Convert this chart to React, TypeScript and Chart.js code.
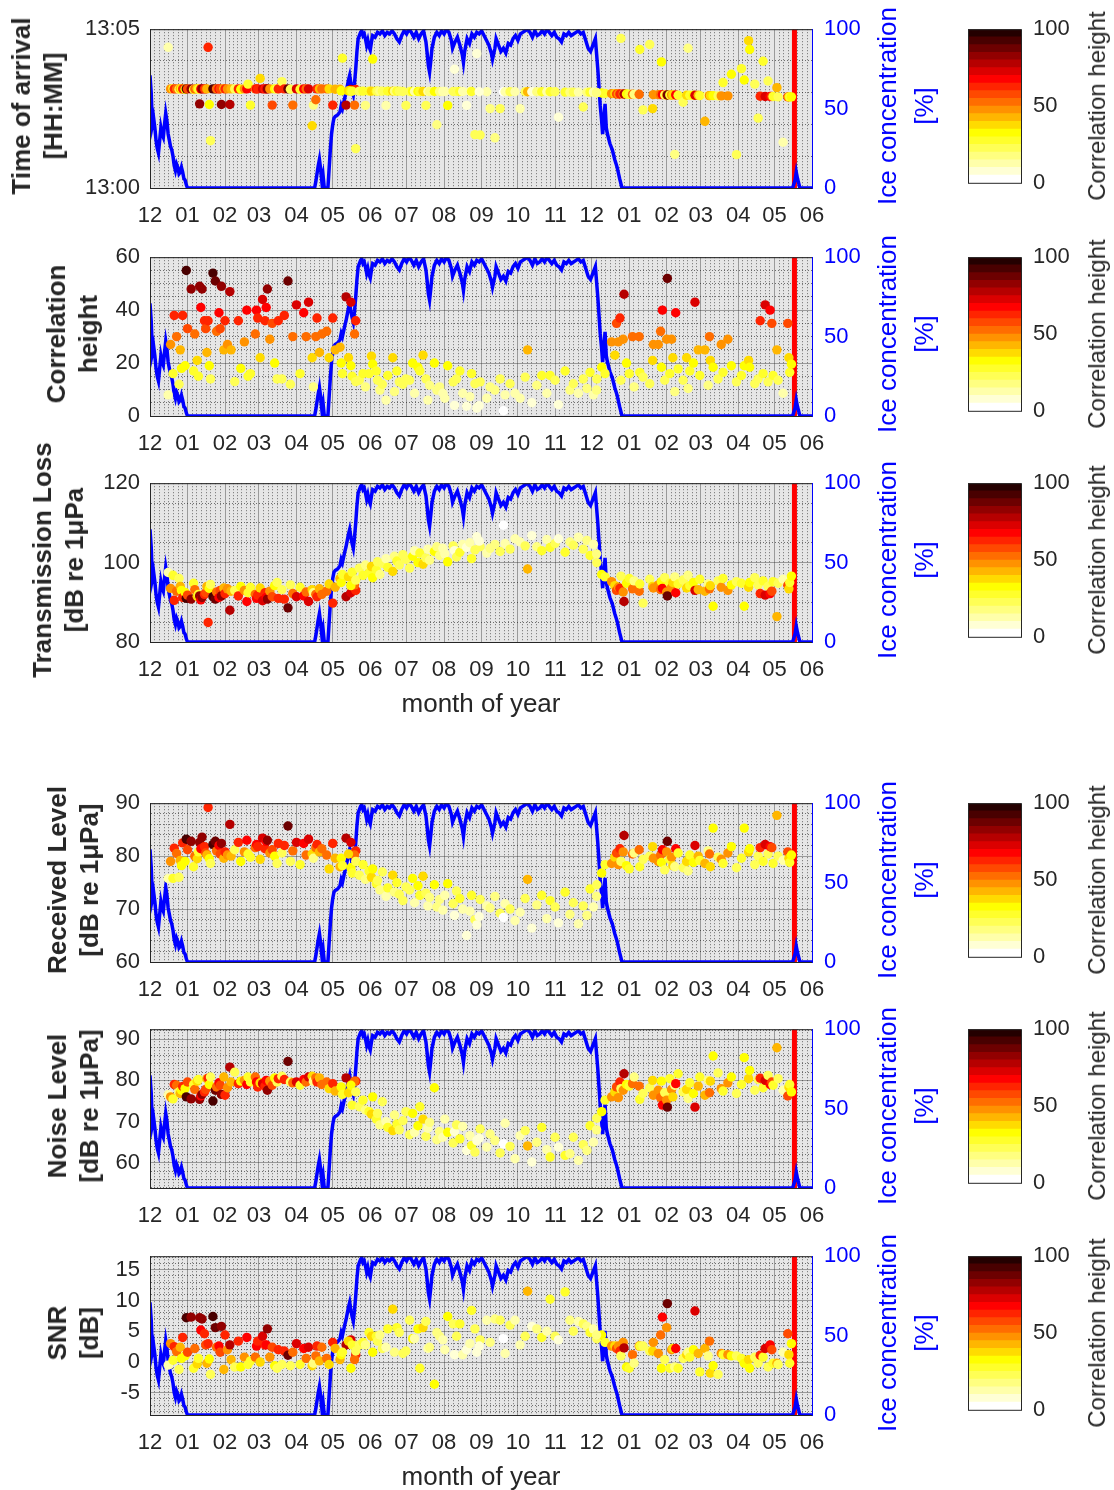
import React, { useEffect, useRef } from 'react';
import { Chart, registerables } from 'chart.js';
Chart.register(...registerables);

const FONT = "'Liberation Sans', Arial, Helvetica, sans-serif";
const AX = '#262626';
Chart.defaults.font.family = FONT;

// ---------------- DATA ----------------
const monthTickDays = [0, 31, 62, 90, 121, 151, 182, 212, 243, 274, 304, 335, 365, 396, 427, 455, 486, 516, 547];
const monthTickLabels = ['12', '01', '02', '03', '04', '05', '06', '07', '08', '09', '10', '11', '12', '01', '02', '03', '04', '05', '06'];

// observation day (days since 1 Dec of first year)
const obsDay = [
  15, 17, 19, 20, 22, 24, 25, 26, 27, 29,
  30, 31, 34, 36, 37, 39, 40, 41, 42, 43,
  45, 46, 47, 48, 49, 50, 52, 54, 55, 57,
  58, 59, 61, 62, 64, 66, 67, 70, 73, 75,
  78, 80, 81, 83, 87, 88, 89, 91, 93, 95,
  96, 97, 99, 101, 103, 105, 106, 109, 111, 114,
  116, 118, 121, 124, 127, 129, 131, 134, 135, 137,
  138, 140, 142, 146, 148, 151, 153, 157, 162, 166,
  170, 169,
  158, 159, 164, 166, 167, 170, 173, 176, 178, 181,
  183, 184, 187, 188, 190, 192, 195, 196.5, 200.6, 202,
  204, 206, 209, 211.5, 214.5, 217, 218.6, 221.4, 223, 225.6,
  228, 229.6, 231, 235, 237, 239.3, 242, 243.6, 246, 250.5,
  251.6, 253.3, 256, 258.4, 261.6, 264.3, 265.7, 268.5, 270, 272.8,
  278.3, 272, 281, 285, 289.3, 292, 293.4, 297.5, 301.6, 305.8,
  310, 312, 315.5, 319.6, 323.7, 327.9, 330.6, 334.7, 337.5, 343,
  347, 349.8, 354, 358, 361, 363.6, 366.4, 369.2, 373.2, 376,
  369,
  381.4, 384.1, 385.5, 387, 388.3, 389.1, 391, 391.7, 393.7, 396,
  398.7, 400, 404.2, 404.7, 407.4, 412.9, 415.3, 415.9, 420, 421.9,
  422.6, 423.4, 425.3, 426.9, 427.5, 429.5, 431, 432, 433.6, 434.4,
  436.4, 440.5, 443.4, 444.6, 446, 449, 450.3, 453, 454.3, 458.5,
  461.2, 462.3, 463, 465.3, 469.4, 472, 473.5, 477.5, 480.4, 484.6,
  488.7, 491, 494.6, 495.5, 499.7, 502.5, 504.2, 506.6, 508.3, 510.7,
  512.4, 513.8, 514.8, 518, 519, 523.1, 527, 527.9, 528.6, 530,
];

// correlation height
const obsCorr = [
  8, 27, 16, 38, 30, 12, 25, 18, 38, 19,
  55, 33, 48, 17, 31, 21, 15, 49, 41, 48,
  36, 33, 24, 36, 19, 14, 54, 51, 32, 39,
  33, 49, 25, 36, 27, 47, 25, 13, 36, 18,
  28, 40, 15, 16, 31, 40, 37, 22, 44, 36,
  41, 48, 29, 35, 20, 14, 36, 14, 38, 51,
  12, 30, 42, 16, 39, 30, 43, 22, 11, 30,
  37, 24, 31, 32, 22, 37, 25, 26, 45, 43,
  36, 31,
  20, 16, 22, 19, 15, 13, 13.5, 16, 11, 16,
  22.6, 19.6, 17, 13.5, 9.8, 12, 6, 15.3, 22, 9.2,
  17, 12.9, 12, 14, 13.5, 20, 8.6, 18.4, 17, 23,
  14, 6, 11.6, 20, 9.8, 11, 8.6, 6.7, 19, 12.9,
  4, 14, 17, 8.6, 3.7, 7.3, 16, 12.2, 3, 12.9,
  6.7, 3.9, 11, 9.8, 14, 2, 8, 12.2, 8.6, 6.7,
  14.7, 25, 5, 11.6, 15.3, 8.6, 15.3, 13.5, 4.3, 17,
  9.8, 12.2, 8.6, 14, 10.4, 16.5, 8, 14, 18.4, 16,
  9.8,
  28, 23, 35, 28, 37, 13.5, 29, 46, 20, 16,
  30, 11, 30, 16.5, 14.7, 12.2, 21, 27, 27, 32,
  18.4, 40, 13.5, 29, 52, 16, 29, 22, 9.2, 39,
  17.8, 13.5, 22, 10.4, 17, 20, 43, 25, 15.3, 25,
  11.6, 30, 21, 18.4, 14, 27, 16.5, 29, 19, 12.9,
  15.3, 19, 21, 18.4, 12.2, 14, 36, 16, 42, 12.9,
  40, 35, 15.3, 25, 13.5, 8.6, 35, 22, 16.5, 19.6,
];

// time of arrival, minutes after 13:00
const obsToa = [
  4.43, 3.12, 3.13, 3.12, 3.12, 3.11, 3.13, 3.12, 3.12, 3.11,
  3.12, 3.12, 3.12, 3.10, 3.12, 3.13, 3.11, 2.65, 3.12, 3.12,
  3.12, 3.12, 3.12, 4.43, 2.63, 1.49, 3.12, 3.12, 3.12, 3.12,
  3.12, 2.63, 3.13, 3.12, 3.12, 2.63, 3.12, 3.12, 3.12, 3.11,
  3.12, 3.12, 3.27, 2.61, 3.12, 3.12, 3.12, 3.45, 3.12, 3.12,
  3.12, 3.12, 3.12, 2.61, 3.12, 3.12, 3.12, 3.35, 3.12, 3.12,
  3.11, 2.61, 3.12, 3.11, 3.12, 3.12, 3.12, 1.96, 2.61, 2.78,
  3.12, 3.12, 3.12, 3.12, 3.12, 2.61, 3.11, 3.11, 2.61, 3.10,
  3.10, 2.61,
  3.06, 4.09, 3.06, 3.05, 3.05, 1.24, 3.05, 3.05, 2.6, 3.05,
  3.05, 4.06, 3.05, 3.05, 3.05, 3.05, 2.6, 3.05, 3.05, 3.05,
  3.05, 3.05, 3.04, 2.6, 3.04, 3.04, 3.04, 3.04, 3.04, 3.04,
  2.6, 3.04, 3.04, 3.04, 1.99, 3.04, 3.04, 3.04, 2.6, 3.04,
  3.74, 3.04, 3.04, 3.04, 2.6, 3.04, 3.04, 1.68, 4.23, 1.67,
  3.03, 3.03, 2.5, 1.58, 2.5, 3.03, 3.03, 3.03, 3.03, 2.5,
  3.03, 3.03, 3.03, 3.03, 3.03, 3.03, 3.03, 3.03, 2.23, 3.02,
  3.02, 3.02, 3.02, 2.55, 3.02, 3.02, 3.02, 3.0, 2.99, 2.98,
  3.0,
  2.97, 2.97, 2.96, 2.96, 2.96, 4.71, 2.96, 2.96, 2.96, 2.95,
  2.95, 2.95, 2.95, 4.36, 2.46, 4.52, 2.5, 2.94, 2.94, 2.94,
  3.97, 2.94, 2.93, 2.93, 2.93, 2.93, 2.93, 2.93, 1.06, 2.93,
  2.92, 2.7, 2.92, 4.4, 2.92, 2.92, 2.92, 2.92, 2.91, 2.1,
  2.91, 2.91, 2.91, 2.91, 2.9, 2.9, 3.32, 2.9, 3.58, 1.05,
  3.76, 3.4, 4.64, 4.36, 3.27, 2.2, 2.89, 3.99, 2.88, 3.37,
  2.88, 2.88, 2.88, 3.16, 2.87, 1.44, 2.87, 2.87, 2.87, 2.87,
];

// transmission loss [dB]
const obsTL = [
  97.5, 93.5, 96.8, 90.5, 92.8, 96, 94, 93, 91.2, 92.5,
  91, 91.8, 90.8, 94.8, 93.2, 91.5, 92, 91.6, 90.6, 91.2,
  92, 92.4, 94, 84.9, 93.5, 94.5, 91.4, 90.8, 92.6, 91.2,
  93, 91.6, 93.6, 92.2, 93.4, 88, 92.8, 93, 91.6, 94,
  93, 90.2, 92.4, 93.8, 92, 91, 91.8, 93.6, 90.4, 92.4,
  91.2, 90.8, 92.8, 91.4, 94.2, 95, 91, 93.2, 90.8, 88.6,
  94.4, 92.2, 91.4, 93.8, 91.6, 92.6, 90.2, 93.2, 92.4, 92,
  91.4, 93.4, 92, 92.8, 94.6, 89.8, 93.8, 96, 91.4, 92.4,
  93, 94.4,
  95, 97, 96.4, 94.2, 97.6, 95.6, 98.6, 96.8, 99.4, 97.4,
  99, 96.2, 98.2, 100.2, 97, 99.8, 101, 98.8, 97.8, 101.6,
  100.4, 99.4, 102, 100.8, 98.6, 101.6, 103, 100, 102.4, 99.6,
  101.2, 103.4, 100.6, 102.8, 104, 101.8, 103.6, 102.2, 100.2, 104.2,
  103, 101.4, 102.6, 104.6, 103.8, 105, 101, 103.2, 106.5, 104,
  102.4, 105.4, 103.6, 104.6, 102.8, 109.4, 104.8, 103.4, 106, 105.2,
  104.2, 98.4, 106.8, 104, 103, 105.8, 103.8, 104.8, 106, 102.6,
  105.2, 104.4, 106.4, 103.4, 105.6, 101.8, 104.6, 100, 97, 96.4,
  102.2,
  95.2, 94.2, 93, 93.8, 93.5, 96.6, 92.6, 90.2, 94.8, 96,
  93.4, 95.4, 92.8, 94.6, 89.8, 95.8, 94, 93.6, 94.4, 93.2,
  95.2, 93.5, 96.2, 92.6, 91.6, 94.8, 93.8, 95, 96.4, 92.4,
  94.6, 95.6, 93.6, 96.8, 94.2, 95, 93, 93.2, 95.8, 92.8,
  94.6, 93.4, 94.2, 89, 95.4, 93.8, 96, 93, 94.4, 95.2,
  94.8, 89, 93.8, 95, 96.2, 94.4, 92.2, 95.4, 91.8, 94,
  92.2, 92.8, 95.2, 86.4, 94.8, 95.8, 94.3, 93.4, 95, 96.6,
];

// received level [dB re 1uPa]
const obsRL = [
  75.8, 79, 75.8, 81.5, 80.5, 76, 79.2, 78.2, 82.5, 79,
  83.2, 81.2, 82.8, 78, 80, 79.5, 80.8, 82.6, 81.4, 83.6,
  81.8, 80.6, 80.2, 89.2, 79.5, 78.6, 82.2, 82.8, 81, 82,
  80.4, 82.4, 79.6, 80.8, 80.2, 86, 80, 81.2, 82.6, 79,
  80.8, 83, 80.4, 79.8, 81.6, 82.2, 81.8, 79.4, 83.4, 81.4,
  82.8, 83, 80.6, 81.2, 80, 78.6, 82.4, 80.6, 82, 85.7,
  79, 81, 82.6, 78.4, 82.4, 80.2, 83.2, 80.4, 79.6, 81.6,
  82.2, 80.8, 81.4, 80.2, 77.6, 82.4, 79.6, 78, 83.4, 82.6,
  81, 80.2,
  79.6, 78.2, 80.4, 77.8, 76.8, 79, 76.4, 78.4, 75.6, 77.2,
  76, 77.6, 74.8, 75.4, 73.6, 77, 72.4, 74, 76.4, 73.2,
  75, 72.8, 71.6, 74.2, 73.6, 75.8, 71.2, 74.4, 72.6, 76.2,
  73, 70.6, 72.2, 74.6, 70.4, 71.8, 69.8, 72.6, 74.8, 71,
  68.8, 73.4, 72, 70, 65, 69.6, 72.6, 68, 67, 71.8,
  70.6, 68.6, 70.2, 72.4, 69.2, 68.4, 71, 70, 67.8, 69.4,
  72, 75.6, 66.4, 70.8, 72.6, 68.2, 71.6, 70.4, 67.4, 73.2,
  69, 71.2, 67.2, 70.6, 68.8, 73.8, 70.4, 74.6, 76.8, 78.4,
  72.4,
  78.6, 79.8, 80.6, 78.4, 81.4, 79, 80.8, 83.9, 78.2, 77.6,
  80.4, 80.6, 81.2, 78, 79.4, 80, 81.8, 79.6, 79, 80.2,
  78.8, 81.2, 77.4, 80.8, 82.8, 79.4, 79.8, 78.2, 78, 81.4,
  80.6, 77.8, 79, 77.2, 80.2, 78.8, 82, 80, 79.2, 78.6,
  81, 80.4, 78, 85.3, 79.8, 79.4, 78.6, 80.6, 81.8, 77.8,
  79.6, 85.3, 80.8, 81.4, 78.4, 80, 81.6, 79, 82.2, 80.4,
  81.8, 81.6, 78.6, 87.7, 80, 79.2, 80.8, 79.6, 78.8, 80.2,
];

// noise level [dB re 1uPa]
const obsNL = [
  76.5, 76, 75.5, 79, 78.8, 77.2, 76.8, 77.6, 78.5, 78,
  76, 79.6, 75.5, 79, 77.8, 79.8, 80.2, 75.4, 76.2, 76.6,
  77.2, 77.8, 80.4, 80.5, 79, 80.8, 75, 77.6, 78.4, 79.4,
  78.8, 76.6, 80.8, 76.4, 78.2, 83.2, 79.6, 82, 79.2, 79.8,
  80, 79, 80.8, 79.6, 80.8, 79.6, 78.4, 79.4, 79.2, 78.6,
  80, 77.6, 79.8, 78.8, 80.6, 79.6, 80.4, 81, 80.2, 84.6,
  79.6, 79.4, 79.6, 78.8, 80.2, 79.6, 80.8, 81, 79.8, 80.6,
  79.6, 80.6, 79, 79.6, 78, 79.2, 77.4, 77.6, 80.6, 79,
  79.8, 79.8,
  78.4, 76.6, 77, 78.8, 74, 77.2, 73.6, 75.2, 72.8, 72.4,
  71.8, 76, 70.6, 72, 69.2, 74.8, 70, 68.6, 67.8, 71.6,
  69.4, 68, 70.2, 72.4, 66.8, 72, 67.4, 69, 73.6, 70.6,
  66.4, 68.4, 69.8, 78.2, 65.6, 67.6, 66.2, 70.6, 67.4, 64.8,
  67.6, 69.2, 65.8, 68.8, 63, 66.6, 64.2, 62.6, 65.4, 68.2,
  63.8, 66, 67, 65.4, 62.4, 64.6, 69.6, 64, 61, 66.6,
  67.8, 64.1, 60.2, 65, 68.6, 63.2, 61.4, 66.2, 63.8, 61.8,
  62.2, 66.2, 60.6, 64.4, 63, 69, 65, 70.8, 72.4, 75.2,
  68,
  76, 77.2, 78.4, 75.8, 79.6, 78, 77.6, 81.6, 79, 78.6,
  79.2, 80.8, 78.6, 75.4, 76.8, 78.2, 80, 76.4, 77.6, 75.8,
  79.8, 74, 77, 75.2, 73.5, 80.4, 77.8, 76, 78.8, 79.2,
  81.6, 77.2, 77.8, 75.6, 79.4, 76.8, 73.5, 78.6, 80.8, 76.4,
  80, 77, 79.8, 85.9, 81.8, 78, 77.4, 79.4, 80.8, 76.8,
  79, 85.5, 80.4, 82.4, 77.6, 80.2, 80.5, 78.2, 80, 81.2,
  79, 79.6, 78.8, 87.9, 80.4, 77.6, 76.2, 78.4, 79, 77.2,
];

// signal to noise ratio [dB]
const obsSNR = [
  -0.5, 3, 0.3, 2.5, 1.7, -1.2, 2.4, 0.6, 4, 1,
  7.2, 1.6, 7.3, -1, 2.2, -0.3, 0.6, 7.2, 5.2, 7,
  4.6, 2.8, -0.2, 3, 0.5, -2, 7.4, 5.6, 2.4, 2.6,
  1.6, 5.8, -1.2, 4.4, 2, 2.8, 0.4, -0.8, 3.4, -0.8,
  0.8, 4, -0.4, 0.2, 0.8, 2.6, 3.4, 0, 4.2, 2.8,
  2.8, 5.4, 0.8, 2.4, -0.6, -1, 2, -0.4, 1.8, 1.1,
  -0.6, 1.6, 3, -0.4, 2.2, 0.6, 2.4, -0.6, -0.2, 1,
  2.6, 0.2, 2.4, 0.6, -0.4, 3.2, 2.2, 0.4, 2.8, 3.6,
  1.2, 0.4,
  1.2, 1.6, 3.4, -1, 2.8, 1.8, 2.8, 3.2, 2.8, 4.8,
  4.2, 1.6, 4.2, 3.4, 4.4, 2.2, 2.4, 5.4, 8.6, 1.6,
  5.6, 4.8, 1.4, 1.8, 6.8, 3.8, 3.8, 5.4, -1, 5.6,
  6.6, 2.2, 2.4, -3.6, 4.8, 4.2, 3.6, 2, 7.4, 6.2,
  1.2, 4.2, 6.2, 1.2, 2, 3, 8.4, 5.4, 1.6, 3.6,
  6.8, 2.6, 3.2, 7, 6.8, 3.8, 1.4, 6, 6.8, 2.8,
  4.2, 11.5, 5.8, 5.4, 4, 5, 10.2, 4.2, 3.6, 11.4,
  6.8, 5, 6.6, 6.2, 5.8, 4.8, 5.4, 3.8, 4.4, 3.2,
  4.4,
  2.6, 2.6, 2.2, 2.6, 1.8, 1, 3.2, 2.3, -0.8, -1,
  1.2, -0.2, 2.6, 2.6, 2.6, 1.8, 1.8, 3.2, 1.4, 4.4,
  -1, 7.3, 0.4, 5.6, 9.5, -1, 2, 2.2, -0.8, 2.2,
  -1, 0.6, 1.2, 1.6, 0.8, 2, 8.3, 1.4, -1.6, 2.2,
  1, 3.4, -1.8, -0.6, -2, 1.4, 1.2, 1.2, 1, 1,
  0.6, -0.2, 0.4, -1, 0.8, -0.2, 1.1, 0.8, 2.2, -0.8,
  2.8, 2, -0.2, -0.2, -0.4, 1.6, 4.6, 1.2, -0.2, 3,
];

// ice concentration [%]
const iceDay = [
  0, 1, 2, 3, 4, 5, 6, 7, 8, 9, 10, 11, 12, 13, 14, 15, 16, 17, 18, 19,
  20, 21, 22, 23, 24, 25, 26, 27, 28, 29, 30, 31, 32, 60, 100, 136,
  137, 139, 140, 141, 142, 143, 144, 147, 148, 149, 150, 151, 152, 153, 155, 157,
  158, 159, 161, 162, 163, 164, 165, 166, 167, 168, 169, 170, 171, 172, 173, 174,
  175, 176, 177, 178, 179, 180, 181, 182, 183, 184, 186, 188, 190, 192, 194, 196,
  198, 200, 202, 204, 206, 208, 210, 212, 214, 216, 218, 220, 222, 224, 226, 228,
  229, 230, 231, 232, 233, 235, 237, 239, 241, 243, 245, 247, 249, 250, 252, 254,
  256, 258, 259, 260, 262, 264, 266, 268, 270, 272, 274, 276, 278, 280, 282, 283,
  285, 286, 288, 290, 292, 294, 296, 298, 300, 302, 304, 306, 308, 310, 312, 314,
  316, 318, 320, 322, 324, 326, 328, 330, 332, 334, 336, 338, 340, 342, 344, 346,
  348, 350, 352, 354, 356, 358, 360, 362, 364, 366, 368, 370, 372, 373, 374, 375,
  376, 377, 378, 380, 382, 384, 386, 388, 390, 531, 533, 534, 535, 537, 547,
];
const iceConc = [
  71, 60, 40, 44, 38, 30, 25, 22, 30, 38, 34, 32, 40, 47, 42, 34, 30, 26, 24, 20,
  14, 11, 15, 13, 9, 10, 13, 10, 6, 5, 2, 0, 0, 0, 0, 0,
  4, 14, 18, 12, 4, 8, 0, 0, 12, 24, 34, 40, 44, 45, 46, 48,
  52, 50, 57, 60, 64, 68, 71, 66, 62, 59, 66, 75, 86, 94, 96, 98,
  99, 96, 97, 94, 90, 93, 89, 87, 92, 96, 95, 98, 97, 99, 96, 98,
  97, 99, 97, 94, 92, 96, 99, 97, 100, 98, 95, 98, 94, 97, 99, 92,
  85, 77, 73, 80, 88, 95, 98, 96, 99, 97, 100, 98, 93, 88, 92, 95,
  90, 84, 79, 86, 94, 91, 97, 95, 98, 97, 99, 96, 93, 90, 85, 81,
  88, 94, 90, 86, 88, 85, 91, 90, 94, 96, 93, 97, 98, 99, 100, 98,
  95, 99, 96, 97, 99, 97, 100, 98, 96, 98, 95, 94, 92, 97, 96, 98,
  96, 97, 98, 99, 97, 98, 93, 88, 86, 90, 94, 75, 52, 44, 34, 42,
  53, 38, 34, 28, 24, 18, 13, 6, 0, 0, 5, 10, 6, 0, 0,
];

const markerDay = 532.5;

// colorbar levels (lower bound of each band) and band width
const cbLevels = [0, 5, 10, 15, 20, 25, 30, 35, 40, 45, 50, 55, 60, 65, 70, 75, 80, 85, 90, 95];
const cbStep = 5;
// correlation height that maps to the darkest marker colour
const markerColorMax = 60;

// ---------------- STYLE HELPERS ----------------
function hotColor(j: number, m = 20): string {
  const n = Math.floor((3 * m) / 8);
  const r = j < n ? (j + 1) / n : 1;
  const g = j < n ? 0 : j < 2 * n ? (j - n + 1) / n : 1;
  const b = j < 2 * n ? 0 : (j - 2 * n + 1) / (m - 2 * n);
  return `rgb(${Math.round(r * 255)},${Math.round(g * 255)},${Math.round(b * 255)})`;
}
function corrColor(c: number): string {
  const k = Math.max(0, Math.min(19, Math.floor((c / markerColorMax) * 20)));
  return hotColor(19 - k);
}

const MAJ = 'rgba(40,40,40,0.4)';
const MIN = 'rgba(30,30,30,0.6)';
const PLOT_BG = '#e6e6e6';
const H = 164;
const CANVAS_W = 940;
const TICK_SIZE = 22;
const LABEL_SIZE = 26;
const CB_LABEL_SIZE = 24;

const xTickObjs: any[] = [];
monthTickDays.forEach((d, i) => {
  xTickObjs.push({ value: d, mj: true, lab: monthTickLabels[i] });
  if (i < monthTickDays.length - 1) {
    const nx = monthTickDays[i + 1];
    for (let k = 1; k < 8; k++) xTickObjs.push({ value: d + ((nx - d) * k) / 8, mj: false, lab: '' });
  }
});

type PanelCfg = {
  top: number;
  values: number[];
  min: number;
  max: number;
  major: number[];
  majorLabels: string[];
  minorStep: number;
  title: string[];
  titleX: number;
  xTitle: boolean;
};

const panels: PanelCfg[] = [
  { top: 24, values: obsToa, min: 0, max: 5, major: [0, 5], majorLabels: ['13:00', '13:05'], minorStep: 1, title: ['Time of arrival', '[HH:MM]'], titleX: 37, xTitle: false },
  { top: 252, values: obsCorr, min: 0, max: 60, major: [0, 20, 40, 60], majorLabels: ['0', '20', '40', '60'], minorStep: 5, title: ['Correlation', 'height'], titleX: 72, xTitle: false },
  { top: 478, values: obsTL, min: 80, max: 120, major: [80, 100, 120], majorLabels: ['80', '100', '120'], minorStep: 5, title: ['Transmission Loss', '[dB re 1μPa'], titleX: 58, xTitle: true },
  { top: 798, values: obsRL, min: 60, max: 90, major: [60, 70, 80, 90], majorLabels: ['60', '70', '80', '90'], minorStep: 2, title: ['Received Level', '[dB re 1μPa]'], titleX: 73, xTitle: false },
  { top: 1024, values: obsNL, min: 53.9, max: 92.4, major: [60, 70, 80, 90], majorLabels: ['60', '70', '80', '90'], minorStep: 2, title: ['Noise Level', '[dB re 1μPa]'], titleX: 73, xTitle: false },
  { top: 1251, values: obsSNR, min: -8.6, max: 17.2, major: [-5, 0, 5, 10, 15], majorLabels: ['-5', '0', '5', '10', '15'], minorStep: 1, title: ['SNR', '[dB]'], titleX: 73, xTitle: true },
];

function buildYTicks(cfg: PanelCfg) {
  const list: any[] = [];
  const start = Math.ceil(cfg.min / cfg.minorStep - 1e-9) * cfg.minorStep;
  for (let v = start; v <= cfg.max + 1e-9; v += cfg.minorStep) {
    const vv = Math.round(v * 1000) / 1000;
    const mi = cfg.major.findIndex((m) => Math.abs(m - vv) < 1e-6);
    list.push({ value: vv, mj: mi >= 0, lab: mi >= 0 ? cfg.majorLabels[mi] : '' });
  }
  return list;
}

const plotFrame = {
  id: 'plotFrame',
  beforeDraw(chart: any) {
    const { ctx, chartArea: a } = chart;
    ctx.save();
    ctx.fillStyle = PLOT_BG;
    ctx.fillRect(a.left, a.top, a.right - a.left, a.bottom - a.top);
    ctx.restore();
  },
  afterDatasetsDraw(chart: any) {
    const { ctx, chartArea: a } = chart;
    ctx.save();
    ctx.lineWidth = 1;
    ctx.strokeStyle = AX;
    ctx.beginPath();
    ctx.moveTo(a.left + 0.5, a.bottom + 0.5);
    ctx.lineTo(a.left + 0.5, a.top + 0.5);
    ctx.lineTo(a.right, a.top + 0.5);
    ctx.moveTo(a.left, a.bottom + 0.5);
    ctx.lineTo(a.right, a.bottom + 0.5);
    ctx.stroke();
    ctx.strokeStyle = '#0000ff';
    ctx.beginPath();
    ctx.moveTo(a.right + 0.5, a.top);
    ctx.lineTo(a.right + 0.5, a.bottom + 1);
    ctx.stroke();
    ctx.restore();
  },
};

const cbFrame = {
  id: 'cbFrame',
  afterDatasetsDraw(chart: any) {
    const { ctx, chartArea: a } = chart;
    ctx.save();
    ctx.lineWidth = 1;
    ctx.strokeStyle = AX;
    ctx.strokeRect(a.left + 0.5, a.top + 0.5, a.right - a.left, a.bottom - a.top);
    ctx.restore();
  },
};

function Panel({ cfg }: { cfg: PanelCfg }) {
  const ref = useRef<HTMLCanvasElement>(null);
  useEffect(() => {
    const yTicks = buildYTicks(cfg);
    const colors = obsCorr.map((c) => corrColor(c));
    const gridColor = (c: any) => (c.tick && c.tick.mj ? MAJ : MIN);
    const gridDash = (c: any) => (c.type === 'tick' && c.tick && !c.tick.mj ? [1, 2] : []);
    const tickFont = { family: FONT, size: TICK_SIZE };
    const chart = new Chart(ref.current as HTMLCanvasElement, {
      type: 'scatter',
      data: {
        datasets: [
          {
            type: 'scatter',
            data: obsDay.map((d, i) => ({ x: d, y: cfg.values[i] })),
            yAxisID: 'y',
            pointRadius: 4.7,
            pointHoverRadius: 4.7,
            pointBackgroundColor: colors,
            pointBorderColor: colors,
            pointBorderWidth: 0,
            borderWidth: 0,
            order: 1,
          } as any,
          {
            type: 'line',
            data: iceDay.map((d, i) => ({ x: d, y: iceConc[i] })),
            yAxisID: 'y1',
            borderColor: '#0000ff',
            borderWidth: 3.5,
            pointRadius: 0,
            fill: false,
            tension: 0,
            order: 2,
          } as any,
          {
            type: 'line',
            data: [{ x: markerDay, y: 0 }, { x: markerDay, y: 100 }],
            yAxisID: 'y1',
            borderColor: '#ff0000',
            borderWidth: 5,
            pointRadius: 0,
            order: 3,
          } as any,
        ],
      },
      options: {
        responsive: false,
        animation: false,
        devicePixelRatio: 1,
        events: [],
        layout: { padding: { top: 20, left: 0, right: 0, bottom: 0 } },
        plugins: { legend: { display: false }, tooltip: { enabled: false } },
        scales: {
          x: {
            type: 'linear',
            position: 'bottom',
            min: 0,
            max: 547,
            afterBuildTicks: (s: any) => { s.ticks = xTickObjs.map((t) => ({ ...t })); },
            afterFit: (s: any) => { s.height = 60; },
            ticks: {
              autoSkip: false,
              maxRotation: 0,
              padding: 15,
              color: AX,
              font: tickFont,
              callback: (_v: any, i: number, ts: any[]) => ts[i].lab,
            },
            grid: { color: gridColor, lineWidth: 1, drawTicks: false },
            border: { display: true, color: AX, width: 1, dash: gridDash },
          } as any,
          y: {
            type: 'linear',
            position: 'left',
            min: cfg.min,
            max: cfg.max,
            afterBuildTicks: (s: any) => { s.ticks = yTicks.map((t) => ({ ...t })); },
            afterFit: (s: any) => { s.width = 150; },
            ticks: {
              autoSkip: false,
              padding: 10,
              color: AX,
              font: tickFont,
              callback: (_v: any, i: number, ts: any[]) => ts[i].lab,
            },
            grid: { color: gridColor, lineWidth: 1, drawTicks: false },
            border: { display: true, color: AX, width: 1, dash: gridDash },
          } as any,
          y1: {
            type: 'linear',
            position: 'right',
            min: 0,
            max: 100,
            afterBuildTicks: (s: any) => { s.ticks = [{ value: 0 }, { value: 50 }, { value: 100 }]; },
            afterFit: (s: any) => { s.width = CANVAS_W - 812; },
            ticks: { autoSkip: false, padding: 12, color: '#0000ff', font: tickFont },
            grid: { display: false, drawTicks: false },
            border: { display: true, color: '#0000ff', width: 1 },
          } as any,
        },
      },
      plugins: [plotFrame],
    });
    return () => chart.destroy();
  }, []);
  return (
    <canvas
      ref={ref}
      width={CANVAS_W}
      height={H + 80}
      style={{ position: 'absolute', left: 0, top: cfg.top - 20, width: CANVAS_W, height: H + 80 }}
    />
  );
}

function Colorbar({ top }: { top: number }) {
  const ref = useRef<HTMLCanvasElement>(null);
  useEffect(() => {
    const chart = new Chart(ref.current as HTMLCanvasElement, {
      type: 'bar',
      data: {
        labels: [''],
        datasets: cbLevels.map((lv, k) => ({
          data: [[lv, lv + cbStep]] as any,
          backgroundColor: hotColor(19 - k),
          borderWidth: 0,
          barPercentage: 1,
          categoryPercentage: 1,
          grouped: false,
        })) as any,
      },
      options: {
        responsive: false,
        animation: false,
        devicePixelRatio: 1,
        events: [],
        layout: { padding: { left: 28, top: 20, bottom: 20, right: 0 } },
        plugins: { legend: { display: false }, tooltip: { enabled: false } },
        scales: {
          x: { display: false },
          y: {
            type: 'linear',
            position: 'right',
            min: 0,
            max: 100,
            afterBuildTicks: (s: any) => { s.ticks = [{ value: 0 }, { value: 50 }, { value: 100 }]; },
            afterFit: (s: any) => { s.width = 174 - 28 - 53; },
            ticks: { padding: 12, color: AX, font: { family: FONT, size: TICK_SIZE } },
            grid: { display: false, drawTicks: false },
            border: { display: false },
          } as any,
        },
      },
      plugins: [cbFrame],
    });
    return () => chart.destroy();
  }, []);
  return (
    <canvas
      ref={ref}
      width={174}
      height={H + 40}
      style={{ position: 'absolute', left: 940, top: top - 20, width: 174, height: H + 40 }}
    />
  );
}

function VLabel({ cx, cy, lines, bold, color, size, lh }: { cx: number; cy: number; lines: string[]; bold?: boolean; color: string; size: number; lh: number }) {
  return (
    <div
      style={{
        position: 'absolute',
        left: cx,
        top: cy,
        transform: 'translate(-50%, -50%) rotate(-90deg)',
        whiteSpace: 'nowrap',
        textAlign: 'center',
        fontFamily: FONT,
        fontSize: size,
        fontWeight: bold ? 'bold' : 'normal',
        color,
        lineHeight: `${lh}px`,
      }}
    >
      {lines.map((l, i) => (
        <div key={i}>{l}</div>
      ))}
    </div>
  );
}

export default function App() {
  return (
    <div style={{ position: 'absolute', left: 0, top: 0, width: 1114, height: 1490, background: '#ffffff', overflow: 'hidden' }}>
      {panels.map((p, i) => (
        <React.Fragment key={i}>
          <Panel cfg={p} />
          <Colorbar top={p.top} />
          <VLabel cx={p.titleX} cy={p.top + H / 2} lines={p.title} bold color={AX} size={LABEL_SIZE} lh={32} />
          <VLabel cx={906} cy={p.top + H / 2} lines={['Ice concentration', '[%]']} color="#0000ff" size={LABEL_SIZE} lh={37} />
          <VLabel cx={1097} cy={p.top + H / 2} lines={['Correlation height']} color={AX} size={CB_LABEL_SIZE} lh={30} />
          {p.xTitle && (
            <div
              style={{
                position: 'absolute',
                left: 481,
                top: p.top + H + 61,
                transform: 'translate(-50%, -50%)',
                whiteSpace: 'nowrap',
                fontFamily: FONT,
                fontSize: LABEL_SIZE,
                color: AX,
              }}
            >
              month of year
            </div>
          )}
        </React.Fragment>
      ))}
    </div>
  );
}
